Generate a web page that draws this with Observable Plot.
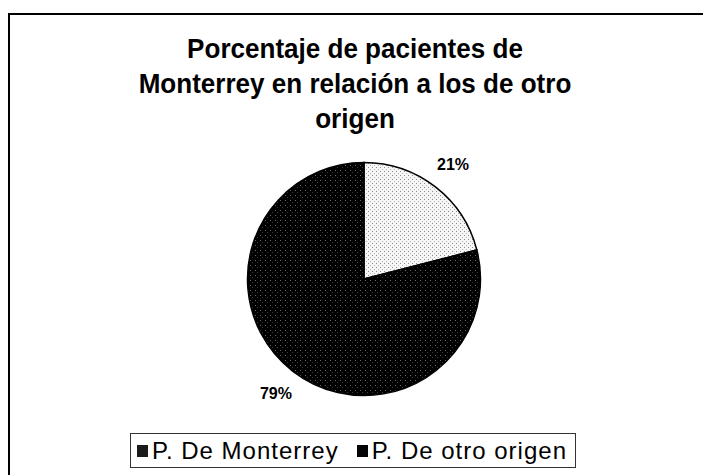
<!DOCTYPE html>
<html>
<head>
<meta charset="utf-8">
<script src="https://cdn.jsdelivr.net/npm/d3@7"></script>
<script src="https://cdn.jsdelivr.net/npm/@observablehq/plot@0.6"></script>
<style>
  html, body { margin: 0; padding: 0; background: #fff; }
  body { width: 703px; height: 475px; position: relative; overflow: hidden; font-family: "Liberation Sans", Arial, sans-serif; }
  #frame { position: absolute; left: 8px; top: 13px; width: 720px; height: 480px; border-top: 2px solid #000; border-left: 2px solid #000; }
  #title { position: absolute; left: 0; width: 710px; top: 31px; text-align: center; font-weight: bold; font-size: 28px; line-height: 35px; color: #000; transform: scaleX(0.93); transform-origin: 355px 0; }
  #chart { position: absolute; left: 0; top: 140px; }
  #legend { position: absolute; left: 130px; top: 433px; width: 446px; height: 35px; border: 1px solid #333; box-sizing: border-box; display: flex; align-items: center; font-size: 24px; letter-spacing: 1px; color: #000; }
  #legend .item { display: flex; align-items: center; }
  #legend .item:first-child { margin-left: 6px; margin-right: 18px; }
  #legend .sw { width: 11px; height: 12px; margin-right: 4px; }
</style>
</head>
<body>
<div id="frame"></div>
<div id="title">Porcentaje de pacientes de<br>Monterrey en relación a los de otro<br>origen</div>
<div id="chart"></div>
<div id="legend"></div>
<script>
const categories = ["P. De Monterrey", "P. De otro origen"];
const values = [21, 79];
const labels = ["21%", "79%"];
const colors = ["url(#patLight)", "url(#patDark)"];
const legendColors = ["#1a1a1a", "#050505"];

const pie = d3.pie().sort(null).value(d => d.value);
const data = categories.map((c, i) => ({category: c, value: values[i], label: labels[i]}));
const arcs = pie(data);
const labelR = 1.24;
const labelData = arcs.map(a => {
  const mid = (a.startAngle + a.endAngle) / 2;
  return {label: a.data.label, x: labelR * Math.sin(mid), y: labelR * Math.cos(mid)};
});

const R = 116.5, cx = 364, cy = 139;
const plot = Plot.plot({
  width: 703,
  height: 290,
  margin: 0,
  x: {domain: [-1, 1], range: [cx - R, cx + R], axis: null},
  y: {domain: [-1, 1], range: [cy + R, cy - R], axis: null},
  marks: [
    (index, scales, vals, dims, context) => {
      const g = d3.create("svg:g");
      const defs = g.append("defs");
      const pl = defs.append("pattern").attr("id", "patLight").attr("patternUnits", "userSpaceOnUse").attr("width", 4).attr("height", 4);
      pl.append("rect").attr("width", 4).attr("height", 4).attr("fill", "#f6f6f6");
      pl.append("rect").attr("x", 0).attr("y", 0).attr("width", 1).attr("height", 1).attr("fill", "#8a8a8a");
      pl.append("rect").attr("x", 2).attr("y", 2).attr("width", 1).attr("height", 1).attr("fill", "#b5b5b5");
      const pd = defs.append("pattern").attr("id", "patDark").attr("patternUnits", "userSpaceOnUse").attr("width", 5).attr("height", 5);
      pd.append("rect").attr("width", 5).attr("height", 5).attr("fill", "#000");
      pd.append("rect").attr("x", 1).attr("y", 1).attr("width", 1).attr("height", 1).attr("fill", "#6a6a6a");
      pd.append("rect").attr("x", 3).attr("y", 3).attr("width", 1).attr("height", 1).attr("fill", "#3a3a3a");
      const x0 = scales.x(0), y0 = scales.y(0);
      const r = scales.x(1) - scales.x(0);
      const arc = d3.arc().innerRadius(0).outerRadius(r);
      g.append("g").attr("transform", `translate(${x0},${y0})`)
        .selectAll("path").data(arcs).join("path")
        .attr("d", arc)
        .attr("fill", (d, i) => colors[i])
        .attr("stroke", "#000").attr("stroke-width", 1.5);
      return g.node();
    },
    Plot.text(labelData, {x: "x", y: "y", text: "label", fontSize: 16, fontWeight: "bold", fill: "#000", fontFamily: "Liberation Sans, Arial, sans-serif"})
  ]
});
document.getElementById("chart").appendChild(plot);

const legend = d3.select("#legend");
categories.forEach((c, i) => {
  const it = legend.append("div").attr("class", "item");
  it.append("div").attr("class", "sw").style("background", legendColors[i]);
  it.append("span").text(c);
});
</script>
</body>
</html>
